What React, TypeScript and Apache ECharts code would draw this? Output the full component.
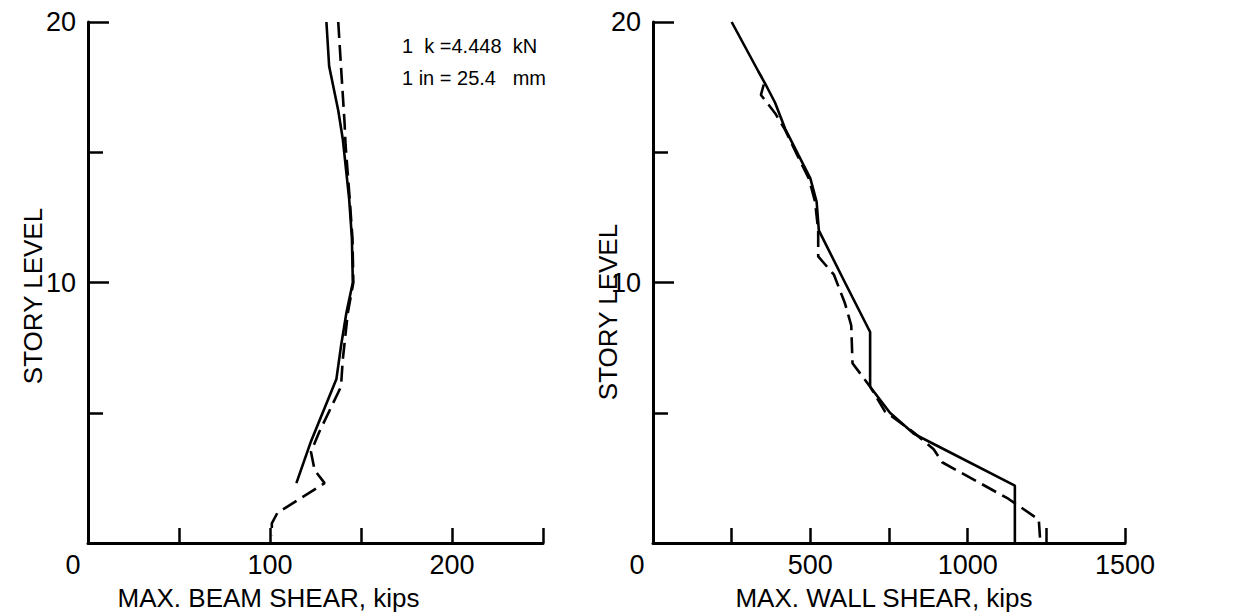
import React, { useEffect, useRef } from "react";
import * as echarts from "echarts";

// Left panel: max beam shear (kips) vs story level
const beamSolidStory = [20, 18.3, 16.6, 15.5, 13.2, 11.7, 10, 8.85, 7.55, 6.3, 3.9, 2.3];
const beamSolidShear = [131, 132.5, 137.5, 140, 143.5, 145, 145.5, 142, 139, 136.5, 122.5, 114.5];
const beamDashStory = [20, 18.3, 16.1, 15.3, 13.2, 11.7, 10, 8.85, 7.05, 6.0, 4.25, 3.5, 2.8, 2.3, 1.15, 0.75, 0.3];
const beamDashShear = [137.5, 139, 141, 141.5, 143.8, 145.3, 145.8, 142.8, 140, 139, 127, 122.5, 124.5, 130, 104, 101, 101];

// Right panel: max wall shear (kips) vs story level
const wallSolidStory = [20, 18.1, 17.6, 16.9, 15.9, 14.9, 14.0, 13.1, 12.0, 10.0, 8.1, 6.0, 5.0, 4.2, 3.8, 2.2, 0];
const wallSolidShear = [250, 335, 358, 388, 420, 462, 500, 520, 527, 610, 690, 690, 753, 828, 892, 1150, 1150];
const wallDashStory = [17.6, 17.2, 16.5, 15.9, 14.9, 14.0, 13.1, 12.0, 11.0, 10.3, 9.2, 8.35, 6.9, 6.0, 5.05, 4.25, 3.6, 3.1, 1.7, 0.9, 0];
const wallDashShear = [352, 343, 388, 418, 458, 495, 515, 525, 525, 575, 610, 630, 634, 690, 737, 828, 892, 919, 1129, 1226, 1231];

const beamTickLabels = [100, 200];
const wallTickLabels = [500, 1000, 1500];
const storyTickLabels = [10, 20];

const beamTitle = "MAX. BEAM SHEAR, kips";
const wallTitle = "MAX. WALL SHEAR, kips";
const storyTitle = "STORY LEVEL";
const noteLines = ["1  k =4.448  kN", "1 in = 25.4   mm"];

const FONT = "Liberation Sans";

const zip = (xs: number[], ys: number[]) => xs.map((x, i) => [x, ys[i]]);

export default function App() {
  const ref = useRef<HTMLDivElement>(null);
  useEffect(() => {
    if (!ref.current) return;
    const chart = echarts.init(ref.current, null, { renderer: "svg" });
    const axisLine = { show: true, onZero: false, lineStyle: { color: "#000", width: 3 } };
    const tickStyle = { color: "#000", width: 2.5 };
    const xAxisCommon = (max: number, interval: number, labels: number[], pad: number, name: string, namePad: number[]) => ({
      type: "value",
      min: 0,
      max,
      interval,
      axisLine,
      axisTick: { show: true, inside: true, length: 15, lineStyle: tickStyle },
      splitLine: { show: false },
      axisLabel: {
        color: "#000",
        fontSize: 27,
        fontFamily: FONT,
        margin: 8,
        showMinLabel: true,
        showMaxLabel: true,
        formatter: (v: number) => (v === 0 ? "{z|0}" : labels.includes(v) ? String(v) : ""),
        rich: { z: { color: "#000", fontSize: 27, fontFamily: FONT, padding: [0, pad, 0, 0] } },
      },
      name,
      nameLocation: "middle",
      nameGap: 42,
      nameTextStyle: { color: "#000", fontSize: 26, fontFamily: FONT, padding: namePad },
    });
    const yAxisCommon = () => ({
      type: "value",
      min: 0,
      max: 20,
      interval: 10,
      axisLine,
      axisTick: { show: true, inside: true, length: 21, lineStyle: tickStyle },
      minorTick: { show: true, splitNumber: 2, length: 15, lineStyle: tickStyle },
      splitLine: { show: false },
      minorSplitLine: { show: false },
      axisLabel: {
        color: "#000",
        fontSize: 27,
        fontFamily: FONT,
        margin: 12,
        formatter: (v: number) => (storyTickLabels.includes(v) ? String(v) : ""),
      },
    });
    const solid = { color: "#000", width: 2.6, type: "solid" };
    const dashed = { color: "#000", width: 2.6, type: [16, 7] };
    chart.setOption({
      animation: false,
      backgroundColor: "#fff",
      grid: [
        { left: 88, top: 22, width: 455, height: 521 },
        { left: 653, top: 22, width: 472, height: 521 },
      ],
      xAxis: [
        { gridIndex: 0, ...xAxisCommon(250, 50, beamTickLabels, 30, beamTitle, [0, 94, 0, 0]) },
        { gridIndex: 1, ...xAxisCommon(1500, 250, wallTickLabels, 32, wallTitle, [0, 10, 0, 0]) },
      ],
      yAxis: [
        { gridIndex: 0, ...yAxisCommon() },
        { gridIndex: 1, ...yAxisCommon() },
      ],
      series: [
        { type: "line", xAxisIndex: 0, yAxisIndex: 0, data: zip(beamSolidShear, beamSolidStory), symbol: "none", lineStyle: solid },
        { type: "line", xAxisIndex: 0, yAxisIndex: 0, data: zip(beamDashShear, beamDashStory), symbol: "none", lineStyle: dashed },
        { type: "line", xAxisIndex: 1, yAxisIndex: 1, data: zip(wallSolidShear, wallSolidStory), symbol: "none", lineStyle: solid },
        { type: "line", xAxisIndex: 1, yAxisIndex: 1, data: zip(wallDashShear, wallDashStory), symbol: "none", lineStyle: dashed },
      ],
      graphic: [
        {
          type: "text",
          x: 33,
          y: 296,
          rotation: Math.PI / 2,
          style: { text: storyTitle, fill: "#000", font: `26px "${FONT}"`, align: "center", verticalAlign: "middle" },
        },
        {
          type: "text",
          x: 608,
          y: 312,
          rotation: Math.PI / 2,
          style: { text: storyTitle, fill: "#000", font: `26px "${FONT}"`, align: "center", verticalAlign: "middle" },
        },
        {
          type: "text",
          x: 402,
          y: 46,
          style: { text: noteLines[0], fill: "#000", font: `20px "${FONT}"`, align: "left", verticalAlign: "middle" },
        },
        {
          type: "text",
          x: 402,
          y: 78,
          style: { text: noteLines[1], fill: "#000", font: `20px "${FONT}"`, align: "left", verticalAlign: "middle" },
        },
      ],
    });
    return () => chart.dispose();
  }, []);
  return <div ref={ref} style={{ position: "fixed", left: 0, top: 0, width: 1234, height: 616 }} />;
}
